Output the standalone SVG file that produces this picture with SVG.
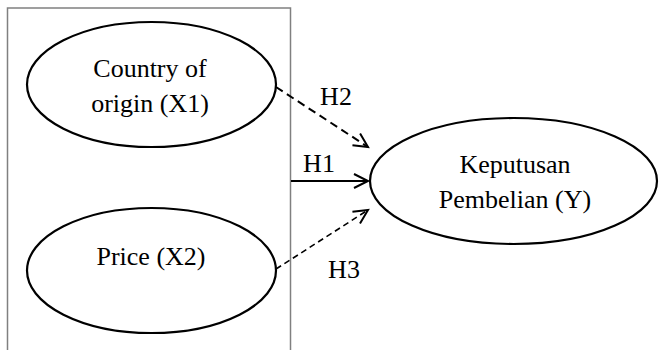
<svg xmlns="http://www.w3.org/2000/svg" width="659" height="350" viewBox="0 0 659 350" font-family="'Liberation Serif', 'Times New Roman', serif">
<style>
.node{fill:#fff;stroke:#000;stroke-width:2.2}
.t{font-family:'Liberation Serif','Times New Roman',serif;font-size:26px;fill:#000;text-anchor:middle}
.c{fill:none;stroke:#000}
</style>
<defs>
<marker id="ah" markerUnits="userSpaceOnUse" markerWidth="20" markerHeight="20" refX="15" refY="8" orient="auto" overflow="visible">
<path d="M1,1 L15,8 L1,15" fill="none" stroke="#000" stroke-width="2"/>
</marker>
</defs>
<rect x="7.5" y="8" width="283" height="360" fill="#fff" stroke="#808080" stroke-width="1.5"/>
<g id="connectors">
<line class="c" x1="276" y1="87" x2="368" y2="147" stroke-width="2" stroke-dasharray="8,5" marker-end="url(#ah)"/>
<line class="c" x1="291" y1="181" x2="368" y2="181" stroke-width="2" marker-end="url(#ah)"/>
<line class="c" x1="276" y1="269" x2="368" y2="210" stroke-width="1.6" stroke-dasharray="6,4" marker-end="url(#ah)"/>
<text class="t" x="336" y="105">H2</text>
<text class="t" x="319" y="172">H1</text>
<text class="t" x="344" y="278">H3</text>
</g>
<g id="x1">
<ellipse class="node" cx="151.5" cy="84.5" rx="124.5" ry="62.5"/>
<text class="t" x="150" y="77">Country of</text>
<text class="t" x="150" y="112">origin (X1)</text>
</g>
<g id="x2">
<ellipse class="node" cx="151.5" cy="270.5" rx="124.5" ry="62.5"/>
<text class="t" x="151" y="265">Price (X2)</text>
</g>
<g id="y">
<ellipse class="node" cx="513.5" cy="181" rx="143.5" ry="63"/>
<text class="t" x="515" y="173">Keputusan</text>
<text class="t" x="515" y="208">Pembelian (Y)</text>
</g>
</svg>
